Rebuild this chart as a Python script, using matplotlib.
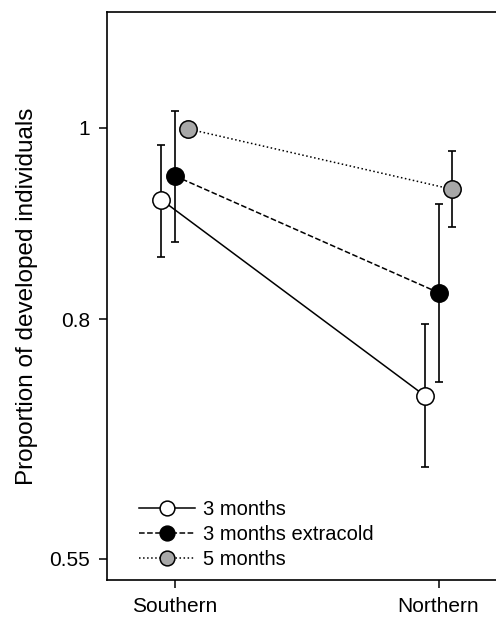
import numpy as np
import matplotlib
matplotlib.use('Agg')
import matplotlib.pyplot as plt

plt.rcParams['font.family'] = ['Liberation Sans', 'DejaVu Sans']

regions = ['Southern', 'Northern']
labels = ['3 months', '3 months extracold', '5 months']
means = [[0.925, 0.720], [0.950, 0.828], [0.999, 0.936]]
lower = [[0.865, 0.646], [0.881, 0.735], [0.999, 0.897]]
upper = [[0.982, 0.795], [1.018, 0.921], [0.999, 0.976]]
offsets = [-0.05, 0.0, 0.05]
styles = ['-', '--', ':']
faces = ['white', 'black', '#a8a8a8']

fig = plt.figure(figsize=(4.96, 6.19), dpi=100)
ax = fig.add_axes([107/496, 1-580/619, 392/496, 568/619])

x = np.arange(1, 3)
for i in range(3):
    m = np.array(means[i])
    yerr = [m - np.array(lower[i]), np.array(upper[i]) - m]
    xx = x + offsets[i]
    ax.errorbar(xx, m, yerr=yerr, fmt='none', ecolor='black', elinewidth=1.2,
                capsize=2.7, capthick=1.2, zorder=2)
    ax.plot(xx, m, linestyle=styles[i], color='black', linewidth=1.1,
            marker='o', markersize=12.5, markerfacecolor=faces[i],
            markeredgecolor='black', markeredgewidth=1.1, label=labels[i], zorder=3)

ax.set_xlim(0.744, 2.229)
ax.set_ylim(0.528, 1.121)
ax.set_xticks(x)
ax.set_xticklabels(regions)
ax.set_yticks([0.55, 0.8, 1])
ax.set_yticklabels(['0.55', '0.8', '1'])
ax.tick_params(labelsize=15, length=6, width=1.1, pad=6)
for s in ax.spines.values():
    s.set_linewidth(1.2)
ax.set_ylabel('Proportion of developed individuals', fontsize=17.5, labelpad=8)

ax.legend(loc='lower left', bbox_to_anchor=(0.035, -0.012), frameon=False, fontsize=14.5,
          handlelength=2.8, numpoints=1, labelspacing=0.3, handletextpad=0.4,
          markerscale=0.85)

fig.savefig('out.png', dpi=100)
